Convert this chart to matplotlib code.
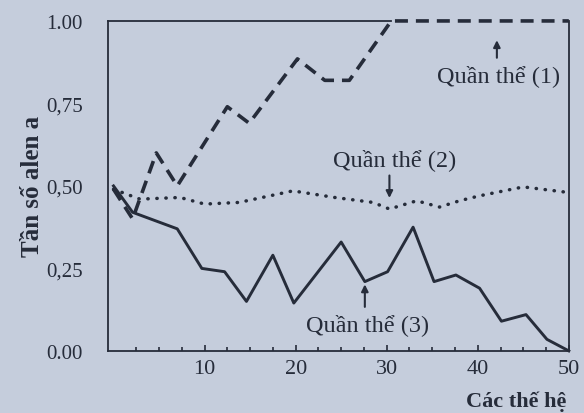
import matplotlib.pyplot as plt

# generations and allele frequency
gen1 = [0, 2.1, 4.7, 7, 12.5, 14.9, 20.2, 23.2, 25.9, 30.5, 40, 50]
pop1 = [0.49, 0.40, 0.60, 0.50, 0.74, 0.69, 0.885, 0.82, 0.82, 1.0, 1.0, 1.0]

gen2 = [0, 2.9, 7.3, 10, 13.8, 19.7, 24.3, 28.5, 30.3, 33.3, 35.8, 38, 40.2, 45, 50]
pop2 = [0.49, 0.46, 0.465, 0.445, 0.45, 0.485, 0.465, 0.45, 0.43, 0.455, 0.436,
        0.455, 0.47, 0.497, 0.48]

gen3 = [0, 2.1, 7, 9.7, 12.2, 14.6, 17.5, 19.8, 25, 27.6, 30.1, 32.9, 35.2,
        37.6, 40.2, 42.6, 45.3, 47.6, 50]
pop3 = [0.50, 0.42, 0.37, 0.25, 0.24, 0.15, 0.29, 0.145, 0.33, 0.21, 0.24,
        0.375, 0.21, 0.23, 0.19, 0.09, 0.11, 0.035, 0.0]

yticks = [0, 0.25, 0.5, 0.75, 1.0]
yticklabels = ["0.00", "0,25", "0,50", "0,75", "1.00"]
xticks = [10, 20, 30, 40, 50]

bg = "#c5cddc"
ink = "#262c3a"

plt.rcParams['font.family'] = ['Liberation Serif', 'DejaVu Serif']

fig = plt.figure(figsize=(5.84, 4.14), dpi=100, facecolor=bg)
ax = fig.add_axes([0.185, 0.150, 0.789, 0.797], facecolor=bg)

ax.plot(gen1, pop1, color=ink, lw=2.6, linestyle=(0, (3.6, 2.2)), clip_on=False)
ax.plot(gen2, pop2, color=ink, lw=2.5, linestyle=(0, (0.1, 2.5)),
        dash_capstyle='round')
ax.plot(gen3, pop3, color=ink, lw=2.1, clip_on=False)

ax.set_xlim(-0.6, 50)
ax.set_ylim(0, 1)
ax.set_xticks(xticks)
ax.set_xticks([x * 2.5 for x in range(1, 20)], minor=True)
ax.set_yticks(yticks)
ax.set_yticklabels(yticklabels)
ax.tick_params(axis='x', direction='in', length=4, width=1.2, color=ink,
               labelsize=16, labelcolor=ink, pad=6)
ax.tick_params(axis='x', which='minor', direction='in', length=3, width=1.2, color=ink)
ax.tick_params(axis='y', length=0, labelsize=15, labelcolor=ink, pad=18)
for s in ax.spines.values():
    s.set_color(ink)
    s.set_linewidth(1.3)
# the dashed line covers the frame after generation 30
ax.spines['top'].set_bounds(-0.6, 30.5)

ax.set_ylabel("Tần số alen a", fontsize=18, fontweight='bold', color=ink, labelpad=2)
fig.text(0.97, 0.005, "Các thế hệ", fontsize=16, fontweight='bold', color=ink,
         ha='right', va='bottom')

arrow = dict(arrowstyle='-|>', color=ink, lw=1.5, mutation_scale=10)
ax.annotate("", xy=(42.1, 0.95), xytext=(42.1, 0.88), arrowprops=arrow)
ax.text(42.3, 0.835, "Quần thể (1)", fontsize=17.5, color=ink, ha='center', va='center')
ax.annotate("", xy=(30.3, 0.455), xytext=(30.3, 0.54), arrowprops=arrow)
ax.text(30.9, 0.58, "Quần thể (2)", fontsize=17.5, color=ink, ha='center', va='center')
ax.annotate("", xy=(27.6, 0.21), xytext=(27.6, 0.125), arrowprops=arrow)
ax.text(27.9, 0.08, "Quần thể (3)", fontsize=17.5, color=ink, ha='center', va='center')

fig.savefig("out.png", dpi=100, facecolor=bg)
